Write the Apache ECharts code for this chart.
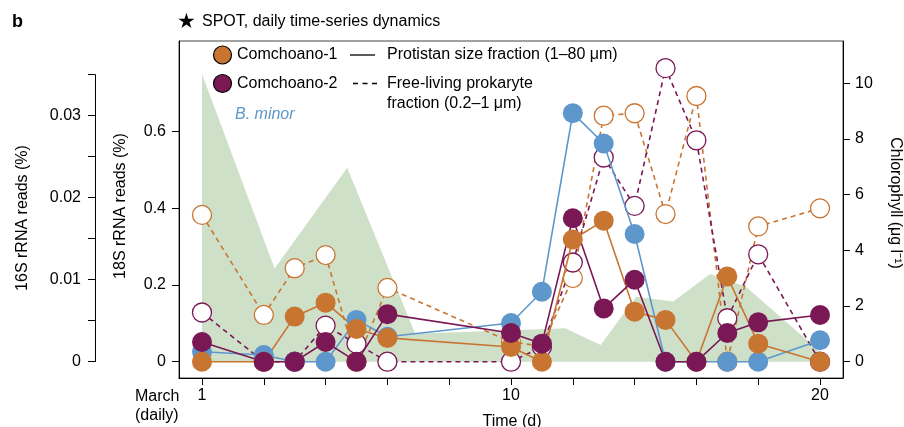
<!DOCTYPE html>
<html>
<head>
<meta charset="utf-8">
<script src="https://cdn.jsdelivr.net/npm/echarts@6/dist/echarts.min.js"></script>
<style>
html,body{margin:0;padding:0;background:#fff;}
#chart{width:904px;height:427px;}
</style>
</head>
<body>
<div id="chart"></div>
<script>
// ---- data (x = sampling position; axis labelled 1, 10, 20) ----
const sampleIdx = [0, 2, 3, 4, 5, 6, 10, 11, 12, 13, 14, 15, 16, 17, 18, 20];
// B. minor, 18S rRNA reads (%), protistan size fraction
const bMinor18S = [0.026, 0.0175, 0, 0, 0.109, 0.065, 0.101, 0.1825, 0.648, 0.569, 0.333, 0, 0, 0, 0, 0.056];
// Comchoano-1 / -2, 16S rRNA reads (%), protistan size fraction (1-80 um)
const comchoano1Protist = [0, 0, 0.0055, 0.0072, 0.0040, 0.0029, 0.0018, 0, 0.0149, 0.0172, 0.0061, 0.0051, 0, 0.0104, 0.0022, 0];
const comchoano2Protist = [0.0024, 0, 0, 0.0024, 0, 0.0058, 0.0035, 0.0022, 0.0175, 0.0065, 0.0100, 0, 0, 0.0035, 0.0048, 0.0057];
// Comchoano-1 / -2, 16S rRNA reads (%), free-living prokaryote fraction (0.2-1 um)
const comchoano1FreeLiving = [0.0179, 0.0057, 0.0114, 0.0130, 0, 0.0090, 0.0024, 0.0019, 0.0102, 0.0300, 0.0303, 0.0180, 0.0324, 0, 0.0165, 0.0187];
const comchoano2FreeLiving = [0.0060, 0, 0, 0.0044, 0.0022, 0, 0, 0.0018, 0.0121, 0.0249, 0.0190, 0.0358, 0.0270, 0.0053, 0.0131, 0];
// Chlorophyll (ug/l)
const chlX = [0, 2.35, 4.7, 6.9, 11.75, 12.9, 14.05, 15.25, 16.45, 17.6, 19.95];
const chlValues = [10.33, 3.35, 6.97, 1.0, 1.2, 0.6, 2.33, 2.16, 3.15, 2.69, 0.42];

// ---- ticks / labels ----
const xTickValues = [0, 2, 4, 6, 8, 10, 12, 14, 16, 18, 20];
const xLabelValues = [0, 10, 20];
const xLabelText = ['1', '10', '20'];
const y18Ticks = [0, 0.2, 0.4, 0.6];
const y16Ticks = [0, 0.005, 0.01, 0.015, 0.02, 0.025, 0.03, 0.035];
const y16Labels = [0, 0.01, 0.02, 0.03];
const chlTicks = [0, 2, 4, 6, 8, 10];

const FONT = 'Liberation Sans, Arial, Helvetica, sans-serif';
const ORANGE = '#c97532';
const PURPLE = '#7a1855';
const BLUE = '#5e97cc';
const GREEN = '#cfe0c9';

const pairs = (xs, ys) => xs.map((x, i) => [x, ys[i]]);

const chart = echarts.init(document.getElementById('chart'), null, {renderer: 'canvas'});

const axisLabelBase = {fontSize: 16, color: '#000', fontFamily: FONT};
const tickBase = {length: 7, lineStyle: {color: '#000', width: 1}};

function hollowSeries(name, data, color) {
  return {
    name, type: 'line', xAxisIndex: 0, yAxisIndex: 1,
    data: pairs(sampleIdx, data),
    symbol: 'circle', symbolSize: 19, showAllSymbol: true,
    itemStyle: {color: '#fff', borderColor: color, borderWidth: 1.3},
    lineStyle: {color: color, width: 1.6, type: [5, 4]},
    emphasis: {disabled: true}, z: 3
  };
}
function filledSeries(name, data, color, yIdx) {
  return {
    name, type: 'line', xAxisIndex: 0, yAxisIndex: yIdx,
    data: pairs(sampleIdx, data),
    symbol: 'circle', symbolSize: 20, showAllSymbol: true,
    itemStyle: {color: color, borderWidth: 0},
    lineStyle: {color: color, width: 1.6},
    emphasis: {disabled: true}, z: 4
  };
}

const option = {
  animation: false,
  backgroundColor: '#fff',
  textStyle: {fontFamily: FONT},
  grid: [
    {left: 179, right: 61, top: 41, bottom: 49, show: true, borderColor: '#444', borderWidth: 1, backgroundColor: 'transparent'},
    {left: 95, width: 10, top: 74.7, height: 287}
  ],
  xAxis: [
    {
      type: 'value', gridIndex: 0, min: -0.744, max: 20.744,
      axisLine: {show: true, onZero: false, lineStyle: {color: '#000', width: 1}},
      axisTick: Object.assign({show: true, customValues: xTickValues}, tickBase),
      axisLabel: Object.assign({
        show: true, margin: 10, customValues: xLabelValues,
        formatter: v => { const i = xLabelValues.indexOf(Math.round(v)); return i >= 0 ? xLabelText[i] : ''; }
      }, axisLabelBase),
      splitLine: {show: false}
    },
    {type: 'value', gridIndex: 1, min: 0, max: 1, show: false}
  ],
  yAxis: [
    { // 18S
      type: 'value', gridIndex: 0, position: 'left', min: -0.0425, max: 0.8362,
      axisLine: {show: true, onZero: false, lineStyle: {color: '#000', width: 1}},
      axisTick: Object.assign({show: true, customValues: y18Ticks}, tickBase),
      axisLabel: Object.assign({show: true, margin: 13, customValues: y18Ticks}, axisLabelBase),
      splitLine: {show: false}
    },
    { // 16S scale for Comchoano series (hidden)
      type: 'value', gridIndex: 0, position: 'left', min: -0.001988, max: 0.03911, show: false,
      axisLine: {show: false, onZero: false},
      splitLine: {show: false}
    },
    { // Chlorophyll
      type: 'value', gridIndex: 0, position: 'right', min: -0.5855, max: 11.519,
      axisLine: {show: true, onZero: false, lineStyle: {color: '#000', width: 1}},
      axisTick: Object.assign({show: true, customValues: chlTicks}, tickBase),
      axisLabel: Object.assign({show: true, margin: 12, customValues: chlTicks}, axisLabelBase),
      splitLine: {show: false}
    },
    { // visible 16S axis, offset to the left
      type: 'value', gridIndex: 1, position: 'left', min: 0, max: 0.035,
      axisLine: {show: true, onZero: false, lineStyle: {color: '#000', width: 1}},
      axisTick: Object.assign({show: true, customValues: y16Ticks}, tickBase),
      axisLabel: Object.assign({show: true, margin: 14, customValues: y16Labels,
        formatter: v => String(+v.toFixed(3))}, axisLabelBase),
      splitLine: {show: false}
    }
  ],
  series: [
    {
      name: 'Chlorophyll', type: 'line', xAxisIndex: 0, yAxisIndex: 2,
      data: pairs(chlX, chlValues), symbol: 'none',
      lineStyle: {width: 0, color: GREEN}, areaStyle: {color: GREEN, opacity: 1},
      emphasis: {disabled: true}, z: 1
    },
    hollowSeries('Comchoano-1 free-living', comchoano1FreeLiving, ORANGE),
    hollowSeries('Comchoano-2 free-living', comchoano2FreeLiving, PURPLE),
    filledSeries('B. minor', bMinor18S, BLUE, 0),
    filledSeries('Comchoano-1 protistan', comchoano1Protist, ORANGE, 1),
    filledSeries('Comchoano-2 protistan', comchoano2Protist, PURPLE, 1),
    {type: 'scatter', xAxisIndex: 1, yAxisIndex: 3, data: []}
  ],
  graphic: [
    {type: 'text', style: {x: 12, y: 22, text: 'b', font: 'bold 18px ' + FONT, fill: '#000', verticalAlign: 'middle'}},
    {type: 'text', style: {x: 177, y: 23, text: '★', font: '21px DejaVu Sans', fill: '#000', verticalAlign: 'middle'}},
    {type: 'text', style: {x: 202, y: 22, text: 'SPOT, daily time-series dynamics', font: '16px ' + FONT, fill: '#000', verticalAlign: 'middle'}},
    // legend
    {type: 'circle', shape: {cx: 222.5, cy: 55, r: 9}, style: {fill: ORANGE, stroke: '#000', lineWidth: 1.2}},
    {type: 'text', style: {x: 237, y: 55, text: 'Comchoano-1', font: '16px ' + FONT, fill: '#000', verticalAlign: 'middle'}},
    {type: 'circle', shape: {cx: 222.5, cy: 83.5, r: 9}, style: {fill: PURPLE, stroke: '#000', lineWidth: 1.2}},
    {type: 'text', style: {x: 237, y: 84, text: 'Comchoano-2', font: '16px ' + FONT, fill: '#000', verticalAlign: 'middle'}},
    {type: 'line', shape: {x1: 350, y1: 55, x2: 375, y2: 55}, style: {stroke: '#000', lineWidth: 1.3}},
    {type: 'line', shape: {x1: 353, y1: 83.5, x2: 377, y2: 83.5}, style: {stroke: '#000', lineWidth: 1.3, lineDash: [5, 4.5]}},
    {type: 'text', style: {x: 387, y: 55, text: 'Protistan size fraction (1–80 μm)', font: '16px ' + FONT, fill: '#000', verticalAlign: 'middle'}},
    {type: 'text', style: {x: 387, y: 84, text: 'Free-living prokaryte', font: '16px ' + FONT, fill: '#000', verticalAlign: 'middle'}},
    {type: 'text', style: {x: 387, y: 104, text: 'fraction (0.2–1 μm)', font: '16px ' + FONT, fill: '#000', verticalAlign: 'middle'}},
    {type: 'text', style: {x: 235, y: 115, text: 'B. minor', font: 'italic 16px ' + FONT, fill: BLUE, verticalAlign: 'middle'}},
    // axis titles
    {type: 'text', x: 23, y: 218, rotation: Math.PI / 2, style: {x: 0, y: 0, text: '16S rRNA reads (%)', font: '16px ' + FONT, fill: '#000', align: 'center', verticalAlign: 'middle'}},
    {type: 'text', x: 121, y: 206, rotation: Math.PI / 2, style: {x: 0, y: 0, text: '18S rRNA reads (%)', font: '16px ' + FONT, fill: '#000', align: 'center', verticalAlign: 'middle'}},
    {type: 'text', x: 895, y: 203, rotation: -Math.PI / 2, style: {x: 0, y: 0, text: 'Chlorophyll (μg l⁻¹)', font: '16px ' + FONT, fill: '#000', align: 'center', verticalAlign: 'middle'}},
    {type: 'text', style: {x: 135, y: 397, text: 'March', font: '16px ' + FONT, fill: '#000', verticalAlign: 'middle'}},
    {type: 'text', style: {x: 135, y: 416, text: '(daily)', font: '16px ' + FONT, fill: '#000', verticalAlign: 'middle'}},
    {type: 'text', style: {x: 512, y: 422, text: 'Time (d)', font: '16px ' + FONT, fill: '#000', align: 'center', verticalAlign: 'middle'}}
  ]
};
chart.setOption(option);
</script>
</body>
</html>
